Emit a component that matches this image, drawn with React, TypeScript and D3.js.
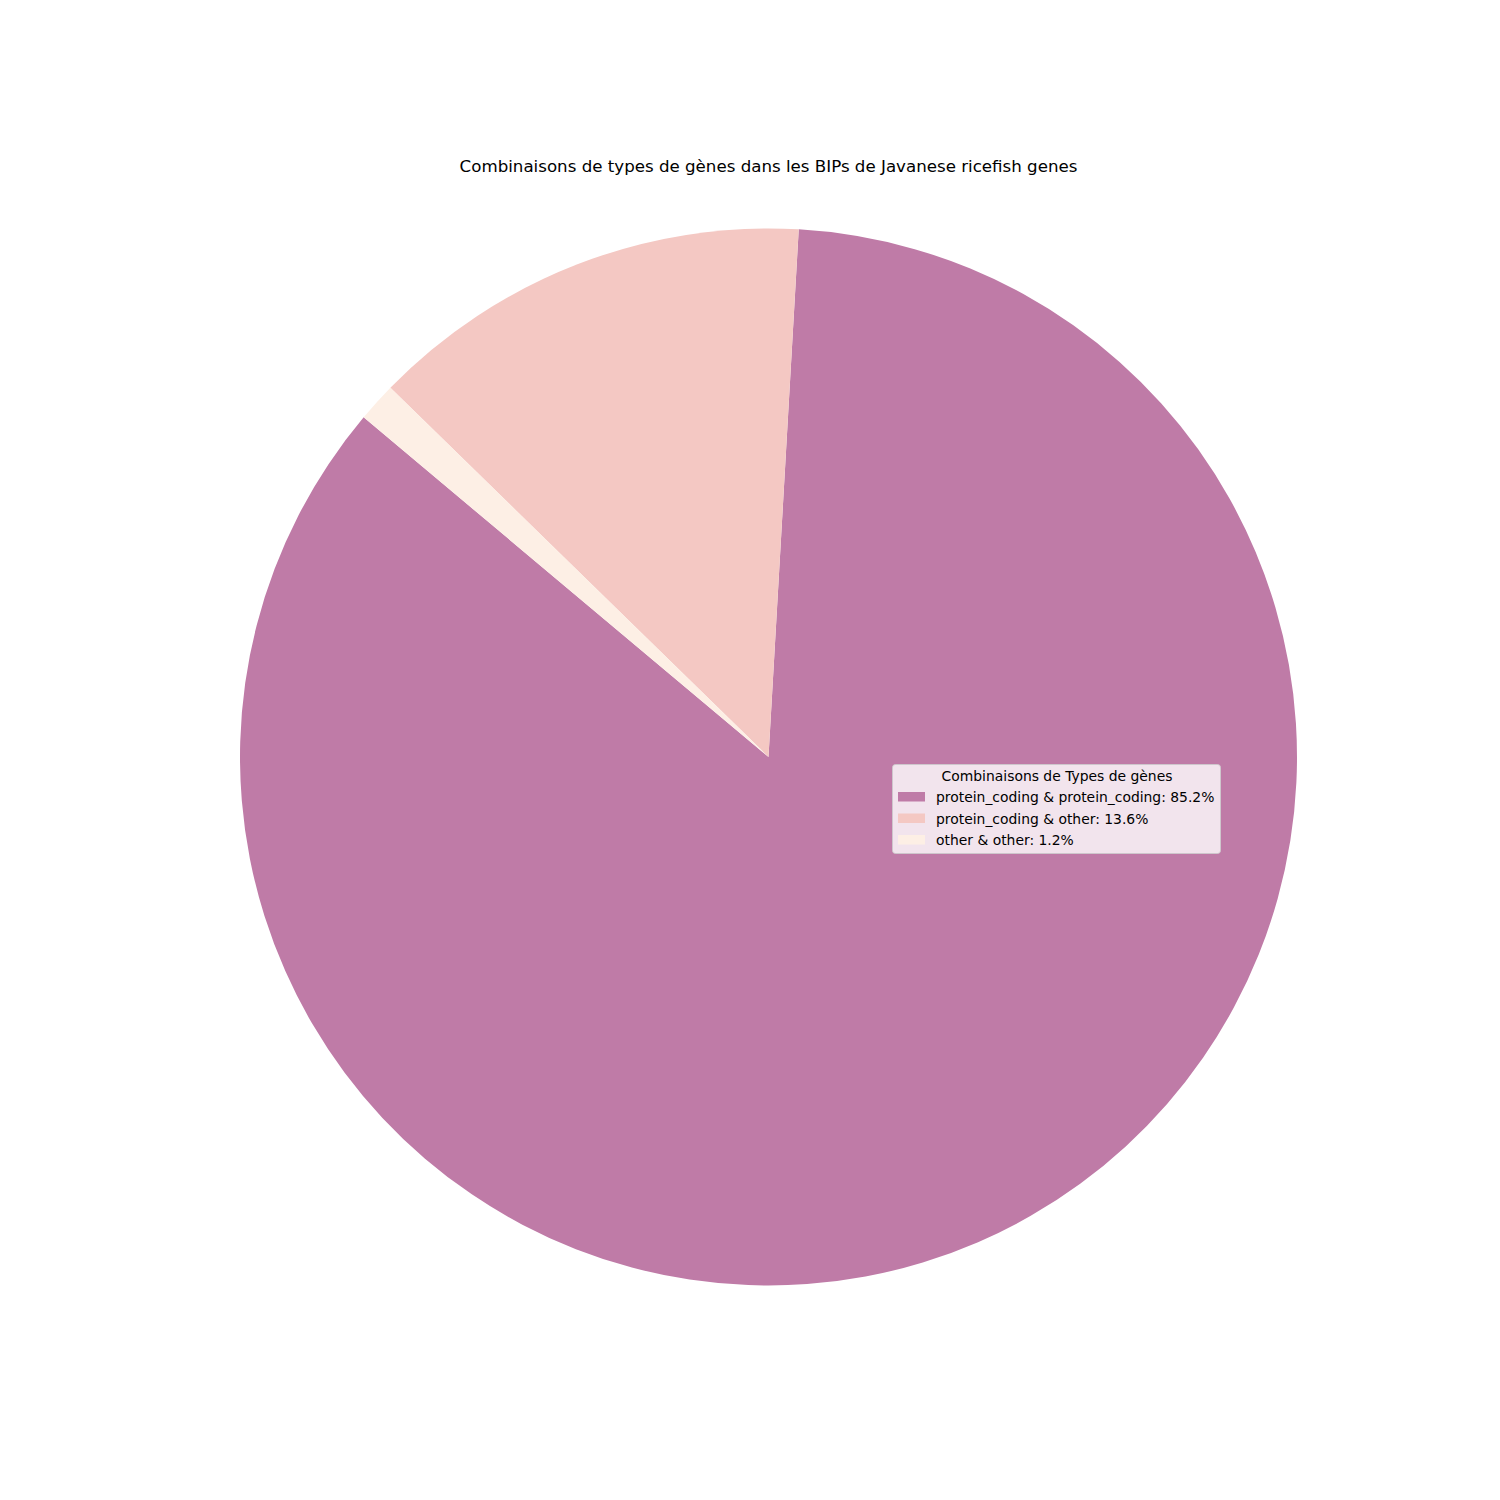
import React, { useEffect, useRef } from 'react';
import * as d3 from 'd3';

const categories = ['protein_coding & protein_coding', 'protein_coding & other', 'other & other'];
const shares = [85.2, 13.6, 1.2];
const colors = ['#bf7ba7', '#f4c8c3', '#fdefe5'];

const chartTitle = 'Combinaisons de types de gènes dans les BIPs de Javanese ricefish genes';
const legendTitle = 'Combinaisons de Types de gènes';

function App() {
  const svgRef = useRef<SVGSVGElement>(null);

  useEffect(() => {
    const width = 1500;
    const height = 1500;
    const cx = 768.5;
    const cy = 757;
    const radius = 528.5;

    const svg = d3.select(svgRef.current);
    svg.selectAll('*').remove();
    svg.attr('width', width).attr('height', height);

    svg.append('rect').attr('width', width).attr('height', height).attr('fill', '#ffffff');

    // matplotlib startangle=140, counterclockwise
    const start = ((90 - 140) * Math.PI) / 180;
    const pie = d3.pie<number>()
      .sort(null)
      .value(d => d)
      .startAngle(start)
      .endAngle(start - 2 * Math.PI);

    const arc = d3.arc<d3.PieArcDatum<number>>().innerRadius(0).outerRadius(radius);

    const g = svg.append('g').attr('transform', `translate(${cx},${cy})`);
    g.selectAll('path')
      .data(pie(shares))
      .join('path')
      .attr('d', arc)
      .attr('fill', (_, i) => colors[i]);

    svg.append('text')
      .attr('x', cx)
      .attr('y', 172)
      .attr('text-anchor', 'middle')
      .attr('font-family', 'DejaVu Sans')
      .attr('font-size', 16.67)
      .attr('fill', '#000')
      .text(chartTitle);

    // legend
    const lx = 892;
    const ly = 764;
    const lw = 328;
    const lh = 89;
    const legend = svg.append('g');
    legend.append('rect')
      .attr('x', lx + 0.5)
      .attr('y', ly + 0.5)
      .attr('width', lw)
      .attr('height', lh)
      .attr('rx', 3)
      .attr('fill', '#ffffff')
      .attr('fill-opacity', 0.8)
      .attr('stroke', '#cccccc')
      .attr('stroke-opacity', 0.8);

    legend.append('text')
      .attr('x', lx + lw / 2 + 1)
      .attr('y', ly + 17)
      .attr('text-anchor', 'middle')
      .attr('font-family', 'DejaVu Sans')
      .attr('font-size', 13.9)
      .attr('fill', '#000')
      .text(legendTitle);

    const rows = legend.selectAll('g.row')
      .data(categories)
      .join('g')
      .attr('class', 'row')
      .attr('transform', (_, i) => `translate(${lx + 6},${ly + 33 + i * 21.5})`);

    rows.append('rect')
      .attr('x', 0)
      .attr('y', -5)
      .attr('width', 27)
      .attr('height', 9.5)
      .attr('fill', (_, i) => colors[i]);

    rows.append('text')
      .attr('x', 38)
      .attr('y', 5)
      .attr('font-family', 'DejaVu Sans')
      .attr('font-size', 13.9)
      .attr('fill', '#000')
      .text((d, i) => `${d}: ${shares[i].toFixed(1)}%`);
  }, []);

  return <svg ref={svgRef} style={{ display: 'block', position: 'absolute', left: 0, top: 0 }}></svg>;
}

export default App;
